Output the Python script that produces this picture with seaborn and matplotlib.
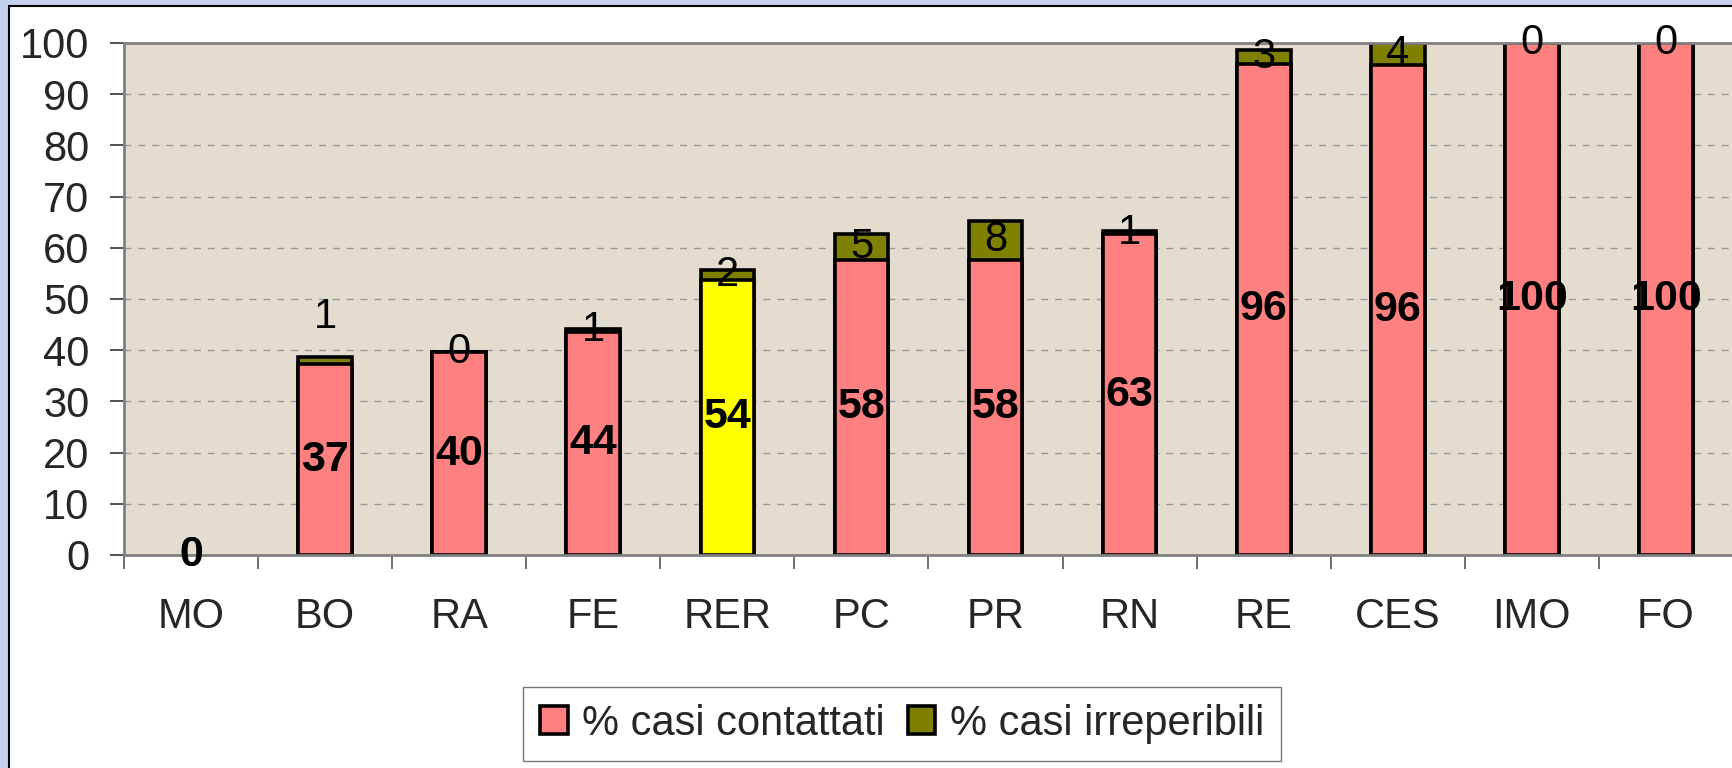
import numpy as np
import pandas as pd
import seaborn as sns
import matplotlib.pyplot as plt
from matplotlib.patches import Patch, Rectangle

sedi = ['MO', 'BO', 'RA', 'FE', 'RER', 'PC', 'PR', 'RN', 'RE', 'CES', 'IMO', 'FO']
contattati = [0, 37.3, 39.6, 43.6, 53.8, 57.7, 57.7, 62.6, 95.9, 95.7, 100, 100]
irreperibili = [0, 1.4, 0, 0.6, 1.9, 4.9, 7.6, 0.6, 2.8, 4.3, 0, 0]

legend_labels = ['% casi contattati', '% casi irreperibili']

pink = '#FF8080'
olive = '#808000'
yellow = '#FFFF00'

df = pd.DataFrame({'sede': sedi, 'contattati': contattati, 'irreperibili': irreperibili})
df['totale'] = df['contattati'] + df['irreperibili']

sns.set_style('white')
plt.rcParams['font.family'] = ['Liberation Sans', 'DejaVu Sans']

W, H = 1733, 768
fig = plt.figure(figsize=(W / 100, H / 100), dpi=100)
fig.patch.set_facecolor('#C4D0EE')
fig.add_artist(Rectangle((9 / W, -0.1), 1.2, 1 - 6 / H + 0.1, transform=fig.transFigure,
                         facecolor='white', edgecolor='black', lw=1.5, zorder=-10))

ax = fig.add_axes([124 / W, (H - 555) / H, 1 - 124 / W, 512 / H])
ax.set_facecolor('#E3DCCF')

# stacked: totals in olive behind, contattati on top
sns.barplot(data=df, x='sede', y='totale', color=olive, saturation=1, width=0.4,
            edgecolor='black', linewidth=2.6, errorbar=None, ax=ax)
sns.barplot(data=df, x='sede', y='contattati', color=pink, saturation=1, width=0.4,
            edgecolor='black', linewidth=2.6, errorbar=None, ax=ax)

n = len(sedi)
for p in ax.patches:
    if p.get_height() == 0:
        p.set_linewidth(0)
ax.patches[n + sedi.index('RER')].set_facecolor(yellow)

fs = 30
for i, row in df.iterrows():
    ax.text(i, row['contattati'] / 2, f"{row['contattati']:.0f}", ha='center', va='center',
            fontsize=31, fontweight='bold', color='black', zorder=5)
    y_irr = row['contattati'] + row['irreperibili'] / 2
    if row['sede'] == 'BO':
        y_irr += 8.5
    ax.text(i, y_irr, f"{row['irreperibili']:.0f}", ha='center', va='center',
            fontsize=fs, color='black', zorder=5)

ax.set_ylim(0, 100)
ax.set_xlim(-0.5, n - 0.5)
ax.set_yticks(np.arange(0, 101, 10))
ax.set_xticks(range(n))
ax.set_xticklabels(sedi)
ax.set_xticks(np.arange(-0.5, n, 1), minor=True)
ax.set_xlabel('')
ax.set_ylabel('')

ax.yaxis.grid(True, linestyle=(0, (5, 5)), color='#999999', lw=1)
ax.xaxis.grid(False)
ax.set_axisbelow(True)

ax.tick_params(axis='y', length=10, width=1.2, color='#333333', pad=15, labelsize=fs, left=True)
ax.tick_params(axis='x', which='major', length=0, pad=30, labelsize=fs)
ax.tick_params(axis='x', which='minor', length=10, width=1.2, color='#555555', bottom=True)

for s in ['left', 'bottom', 'top']:
    ax.spines[s].set_color('#808080')
    ax.spines[s].set_linewidth(2)
ax.spines['right'].set_visible(False)

handles = [Patch(facecolor=pink, edgecolor='black', lw=2.6),
           Patch(facecolor=olive, edgecolor='black', lw=2.6)]
leg = fig.legend(handles, legend_labels, loc='center', bbox_to_anchor=(902 / W, 1 - 724 / H),
                 ncol=2, fontsize=fs, frameon=True, fancybox=False, handlelength=0.66,
                 handleheight=0.66, handletextpad=0.35, columnspacing=0.55, borderpad=0.4,
                 borderaxespad=0)
leg.get_frame().set_edgecolor('#555555')
leg.get_frame().set_linewidth(1)

fig.savefig('out.png', dpi=100)
